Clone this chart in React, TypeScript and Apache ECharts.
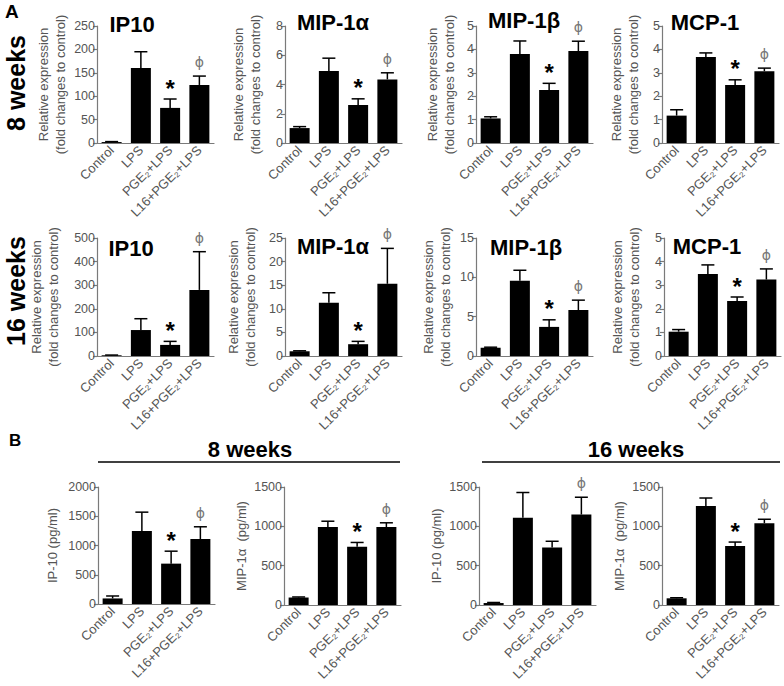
import React, { useEffect, useRef } from "react";
import * as echarts from "echarts";

const categories = ["Control", "LPS", "PGE₂+LPS", "L16+PGE₂+LPS"];

// Row 1: 8 weeks, relative expression
const ip10_8wMean = [2, 160, 75, 124];
const ip10_8wUpper = [3, 195, 94, 143];
const mip1a_8wMean = [1.02, 4.92, 2.6, 4.35];
const mip1a_8wUpper = [1.12, 5.8, 3.02, 4.8];
const mip1b_8wMean = [1.05, 3.8, 2.27, 3.93];
const mip1b_8wUpper = [1.12, 4.36, 2.55, 4.35];
const mcp1_8wMean = [1.17, 3.67, 2.48, 3.07];
const mcp1_8wUpper = [1.42, 3.85, 2.7, 3.2];

// Row 2: 16 weeks, relative expression
const ip10_16wMean = [3, 110, 47, 280];
const ip10_16wUpper = [4, 158, 62, 442];
const mip1a_16wMean = [1.0, 11.3, 2.5, 15.3];
const mip1a_16wUpper = [1.1, 13.4, 3.1, 22.8];
const mip1b_16wMean = [1.05, 9.55, 3.7, 5.85];
const mip1b_16wUpper = [1.12, 10.9, 4.6, 7.1];
const mcp1_16wMean = [1.03, 3.47, 2.33, 3.24];
const mcp1_16wUpper = [1.12, 3.86, 2.5, 3.69];

// Row 3: protein levels (pg/ml)
const ip10Prot_8wMean = [95, 1250, 690, 1110];
const ip10Prot_8wUpper = [137, 1570, 903, 1320];
const mip1aProt_8wMean = [95, 990, 740, 990];
const mip1aProt_8wUpper = [102, 1065, 795, 1045];
const ip10Prot_16wMean = [25, 1110, 730, 1150];
const ip10Prot_16wUpper = [32, 1430, 810, 1370];
const mip1aProt_16wMean = [85, 1260, 750, 1040];
const mip1aProt_16wUpper = [92, 1360, 800, 1090];

const marksStarPhi = ["", "", "*", "ϕ"];
const marksPhiOnly = ["", "", "", "ϕ"];

const relName = "Relative expression\n(fold changes to control)";

const FONT = "Liberation Sans";

type Panel = {
  mean: number[];
  upper: number[];
  marks: string[];
  max: number;
  interval: number;
  name: string;
  title?: string;
  left: number;
  top: number;
  height: number;
  nameGap: number;
  titleX?: number;
  titleY?: number;
};

const panels: Panel[] = [
  { mean: ip10_8wMean, upper: ip10_8wUpper, marks: marksStarPhi, max: 250, interval: 50, name: relName, title: "IP10", left: 97, top: 26, height: 117, nameGap: 28.5, titleX: 132, titleY: 24 },
  { mean: mip1a_8wMean, upper: mip1a_8wUpper, marks: marksStarPhi, max: 8, interval: 2, name: relName, title: "MIP-1α", left: 285, top: 26, height: 117, nameGap: 21.5, titleX: 333, titleY: 22 },
  { mean: mip1b_8wMean, upper: mip1b_8wUpper, marks: marksStarPhi, max: 5, interval: 1, name: relName, title: "MIP-1β", left: 476, top: 26, height: 117, nameGap: 18.5, titleX: 524, titleY: 20 },
  { mean: mcp1_8wMean, upper: mcp1_8wUpper, marks: marksStarPhi, max: 5, interval: 1, name: relName, title: "MCP-1", left: 662, top: 26, height: 117, nameGap: 20.5, titleX: 705, titleY: 22 },
  { mean: ip10_16wMean, upper: ip10_16wUpper, marks: marksStarPhi, max: 500, interval: 100, name: relName, title: "IP10", left: 97, top: 238, height: 118, nameGap: 35.5, titleX: 131, titleY: 248 },
  { mean: mip1a_16wMean, upper: mip1a_16wUpper, marks: marksStarPhi, max: 25, interval: 5, name: relName, title: "MIP-1α", left: 285, top: 238, height: 118, nameGap: 26.5, titleX: 333, titleY: 246 },
  { mean: mip1b_16wMean, upper: mip1b_16wUpper, marks: marksStarPhi, max: 15, interval: 5, name: relName, title: "MIP-1β", left: 476, top: 238, height: 118, nameGap: 22.5, titleX: 526, titleY: 247 },
  { mean: mcp1_16wMean, upper: mcp1_16wUpper, marks: marksStarPhi, max: 5, interval: 1, name: relName, title: "MCP-1", left: 664, top: 238, height: 118, nameGap: 21.5, titleX: 707, titleY: 246 },
  { mean: ip10Prot_8wMean, upper: ip10Prot_8wUpper, marks: marksStarPhi, max: 2000, interval: 500, name: "IP-10 (pg/ml)", left: 98, top: 487, height: 117, nameGap: 37.5 },
  { mean: mip1aProt_8wMean, upper: mip1aProt_8wUpper, marks: marksStarPhi, max: 1500, interval: 500, name: "MIP-1α  (pg/ml)", left: 284, top: 487, height: 118, nameGap: 33.5 },
  { mean: ip10Prot_16wMean, upper: ip10Prot_16wUpper, marks: marksPhiOnly, max: 1500, interval: 500, name: "IP-10 (pg/ml)", left: 479, top: 487, height: 118, nameGap: 33.5 },
  { mean: mip1aProt_16wMean, upper: mip1aProt_16wUpper, marks: marksStarPhi, max: 1500, interval: 500, name: "MIP-1α  (pg/ml)", left: 662, top: 487, height: 118, nameGap: 33.5 },
];

const AXIS = "#7a7a7a";
const LABEL = "#555";

export default function App() {
  const ref = useRef<HTMLDivElement>(null);
  useEffect(() => {
    document.body.style.margin = "0";
    const chart = echarts.init(ref.current!, null, { renderer: "svg" });
    const grid: any[] = [];
    const xAxis: any[] = [];
    const yAxis: any[] = [];
    const series: any[] = [];
    const graphic: any[] = [];

    panels.forEach((p, i) => {
      grid.push({ left: p.left, top: p.top, width: 117, height: p.height, containLabel: false });
      xAxis.push({
        type: "category",
        gridIndex: i,
        data: categories,
        axisLine: { lineStyle: { color: AXIS, width: 1.2 } },
        axisTick: { alignWithLabel: true, length: 4, lineStyle: { color: AXIS, width: 1.2 } },
        axisLabel: { rotate: 45, fontSize: 13, color: LABEL, margin: 5, fontFamily: FONT, interval: 0 },
        splitLine: { show: false },
      });
      yAxis.push({
        type: "value",
        gridIndex: i,
        min: 0,
        max: p.max,
        interval: p.interval,
        name: p.name,
        nameLocation: "middle",
        nameRotate: 90,
        nameGap: p.nameGap,
        nameTextStyle: { fontSize: 13, color: LABEL, lineHeight: 17, fontFamily: FONT },
        axisLine: { show: true, lineStyle: { color: AXIS, width: 1.2 } },
        axisTick: { show: true, length: 4, lineStyle: { color: AXIS, width: 1.2 } },
        axisLabel: { fontSize: 12.5, color: LABEL, margin: 2, fontFamily: FONT, formatter: (v: number) => String(v) },
        splitLine: { show: false },
      });
      series.push({
        type: "bar",
        xAxisIndex: i,
        yAxisIndex: i,
        data: p.mean,
        barWidth: 20,
        itemStyle: { color: "#000" },
        silent: true,
      });
      const marks = p.marks;
      series.push({
        type: "custom",
        xAxisIndex: i,
        yAxisIndex: i,
        z: 5,
        data: p.mean.map((m, k) => [k, m, p.upper[k]]),
        renderItem: (params: any, api: any) => {
          const k = api.value(0);
          const mean = api.value(1);
          const up = api.value(2);
          const p0 = api.coord([k, mean]);
          const p1 = api.coord([k, up]);
          const half = 6.5;
          const children: any[] = [
            { type: "line", shape: { x1: p0[0], y1: p0[1], x2: p1[0], y2: p1[1] }, style: { stroke: "#000", lineWidth: 1.5 } },
            { type: "line", shape: { x1: p1[0] - half, y1: p1[1], x2: p1[0] + half, y2: p1[1] }, style: { stroke: "#000", lineWidth: 1.5 } },
          ];
          const mk = marks[k];
          if (mk === "*") {
            children.push({
              type: "text",
              style: { text: "*", x: p1[0], y: p1[1] - 11, textAlign: "center", textVerticalAlign: "middle", fill: "#000", font: `bold 24px "${FONT}"` },
            });
          } else if (mk) {
            children.push({
              type: "text",
              style: { text: mk, x: p1[0], y: p1[1] - 14, textAlign: "center", textVerticalAlign: "middle", fill: "#777", font: `14px "DejaVu Sans"` },
            });
          }
          return { type: "group", children };
        },
      });
      if (p.title) {
        graphic.push({
          type: "text",
          x: p.titleX,
          y: p.titleY,
          style: { text: p.title, fill: "#000", font: `bold 22px "${FONT}"`, textAlign: "center", textVerticalAlign: "middle" },
        });
      }
    });

    graphic.push(
      { type: "text", x: 5, y: 2, style: { text: "A", fill: "#000", font: `bold 19px "${FONT}"` } },
      { type: "text", x: 9, y: 432, style: { text: "B", fill: "#000", font: `bold 17px "${FONT}"` } },
      { type: "text", x: 16, y: 83, rotation: Math.PI / 2, style: { text: "8 weeks", fill: "#000", font: `bold 25px "${FONT}"`, textAlign: "center", textVerticalAlign: "middle" } },
      { type: "text", x: 16, y: 291, rotation: Math.PI / 2, style: { text: "16 weeks", fill: "#000", font: `bold 25px "${FONT}"`, textAlign: "center", textVerticalAlign: "middle" } },
      { type: "text", x: 250, y: 449, style: { text: "8 weeks", fill: "#000", font: `bold 22px "${FONT}"`, textAlign: "center", textVerticalAlign: "middle" } },
      { type: "text", x: 636, y: 449, style: { text: "16 weeks", fill: "#000", font: `bold 22px "${FONT}"`, textAlign: "center", textVerticalAlign: "middle" } },
      { type: "line", shape: { x1: 98, y1: 462, x2: 400, y2: 462 }, style: { stroke: "#000", lineWidth: 1.5 } },
      { type: "line", shape: { x1: 482, y1: 462, x2: 780, y2: 462 }, style: { stroke: "#000", lineWidth: 1.5 } }
    );

    chart.setOption({
      animation: false,
      backgroundColor: "#fff",
      textStyle: { fontFamily: FONT },
      grid,
      xAxis,
      yAxis,
      series,
      graphic,
    });
    return () => chart.dispose();
  }, []);
  return <div ref={ref} style={{ width: 784, height: 686 }} />;
}
